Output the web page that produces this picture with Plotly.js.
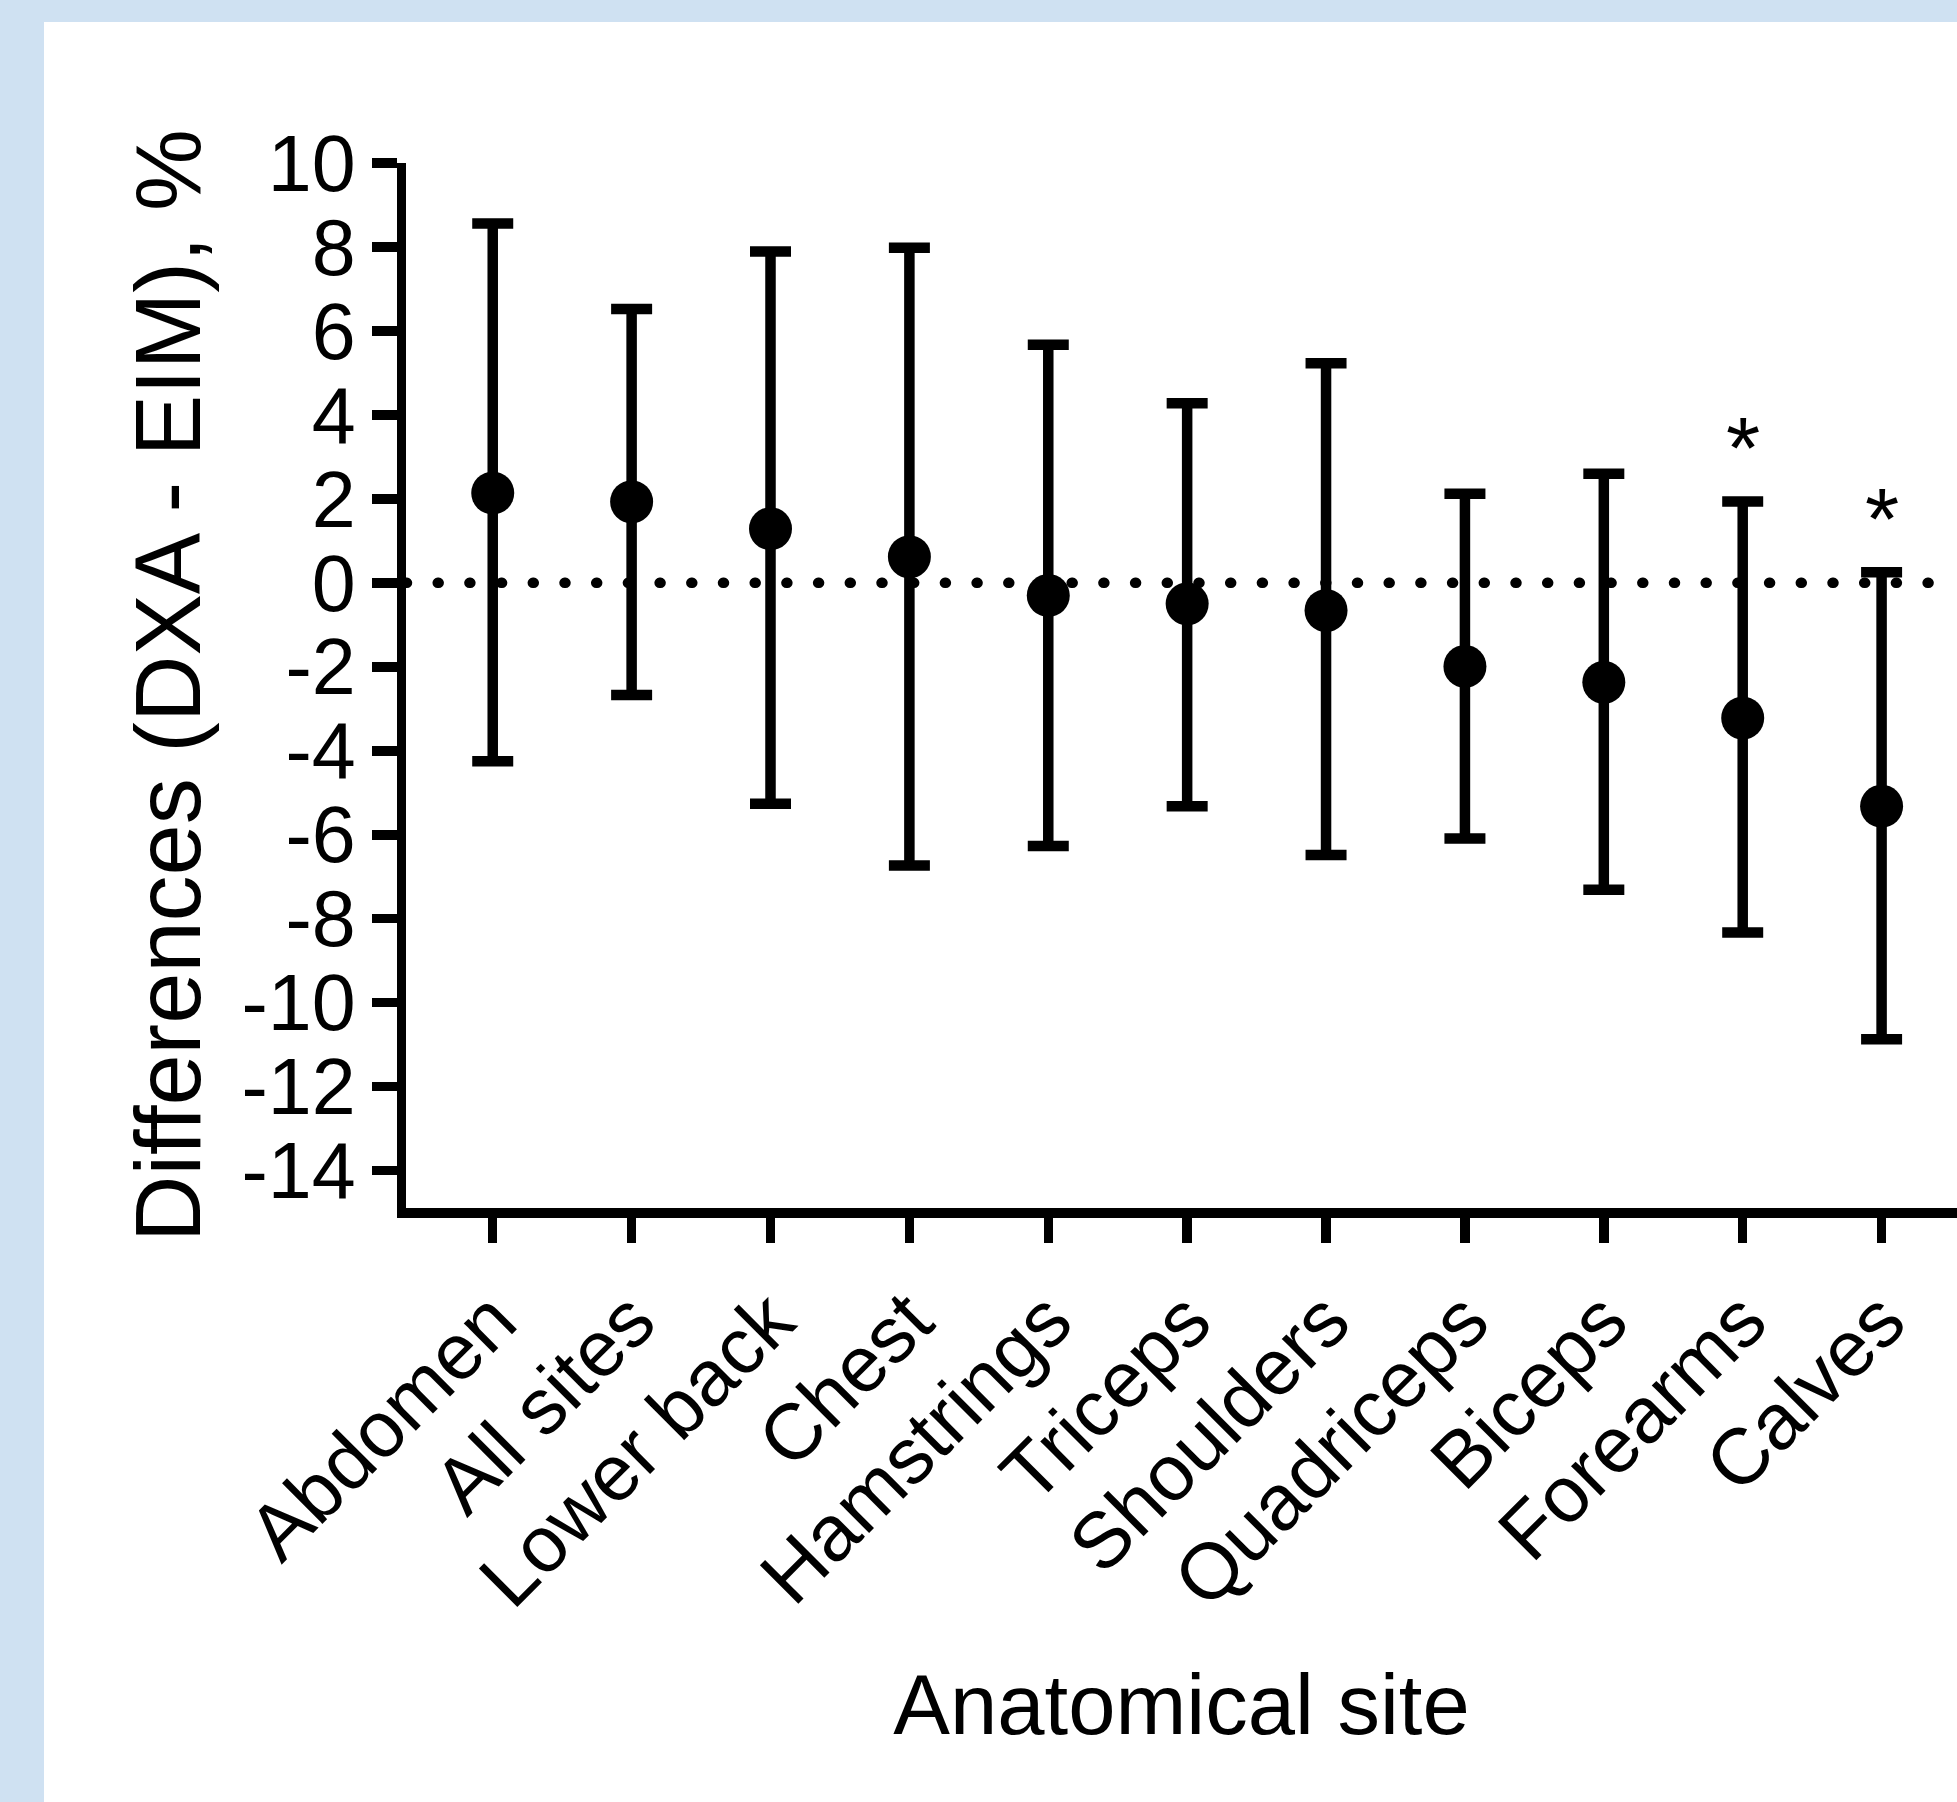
<!DOCTYPE html>
<html>
<head>
<meta charset="utf-8">
<script src="https://cdn.plot.ly/plotly-3.0.1.min.js"></script>
<style>
  html, body { margin: 0; padding: 0; background: #cfe1f2; width: 1957px; height: 1802px; overflow: hidden; }
  #frame { position: absolute; left: 44px; top: 22px; width: 1913px; height: 1780px; background: #ffffff; }
  #chart { width: 1913px; height: 1780px; }
  .shapelayer path { stroke-linecap: round; }
</style>
</head>
<body>
<div id="frame"><div id="chart"></div></div>
<script>
// Anatomical sites (x categories)
const sites = ["Abdomen", "All sites", "Lower back", "Chest", "Hamstrings", "Triceps",
               "Shoulders", "Quadriceps", "Biceps", "Forearms", "Calves"];
// Mean difference (DXA - EIM), %
const meanDiff = [2.14, 1.93, 1.29, 0.62, -0.30, -0.50, -0.66, -1.99, -2.37, -3.22, -5.32];
// Upper and lower limits of the error bars, %
const upperLimit = [8.56, 6.52, 7.89, 7.98, 5.67, 4.28, 5.23, 2.12, 2.60, 1.94, 0.25];
const lowerLimit = [-4.25, -2.67, -5.26, -6.73, -6.27, -5.32, -6.48, -6.09, -7.31, -8.33, -10.87];
// Sites flagged as significant
const significant = ["Forearms", "Calves"];
// Y-axis tick values
const yTicks = [-14, -12, -10, -8, -6, -4, -2, 0, 2, 4, 6, 8, 10];

const FONT = "Liberation Sans, Arial, Helvetica, sans-serif";

const errPlus = meanDiff.map((m, i) => upperLimit[i] - m);
const errMinus = meanDiff.map((m, i) => m - lowerLimit[i]);

const trace = {
  type: "scatter",
  mode: "markers",
  x: sites,
  y: meanDiff,
  marker: { color: "#000000", size: 43, symbol: "circle" },
  error_y: {
    type: "data",
    symmetric: false,
    array: errPlus,
    arrayminus: errMinus,
    color: "#000000",
    thickness: 10.5,
    width: 20.5
  },
  cliponaxis: false,
  hoverinfo: "x+y"
};

const annotations = significant.map(s => {
  const i = sites.indexOf(s);
  return {
    x: s, y: upperLimit[i], xref: "x", yref: "y",
    text: "*", showarrow: false, yanchor: "bottom", yshift: 2,
    font: { family: FONT, size: 88, color: "#000000" }
  };
});

const layout = {
  width: 1913,
  height: 1780,
  margin: { l: 362, r: 0, t: 141, b: 594, pad: 0 },
  paper_bgcolor: "#ffffff",
  plot_bgcolor: "#ffffff",
  showlegend: false,
  font: { family: FONT, color: "#000000", size: 78 },
  xaxis: {
    type: "category",
    range: [-0.6245, 10.543],
    showgrid: false,
    zeroline: false,
    showline: true,
    linecolor: "#000000",
    linewidth: 9.5,
    ticks: "outside",
    ticklen: 25,
    tickwidth: 9.5,
    tickcolor: "#000000",
    tickangle: -45,
    tickfont: { family: FONT, size: 79, color: "#000000" },
    automargin: false,
    title: { text: "Anatomical site", font: { family: FONT, size: 85, color: "#000000" }, standoff: 56 }
  },
  yaxis: {
    range: [-14.89, 10],
    tickmode: "array",
    tickvals: yTicks,
    ticktext: yTicks.map(String),
    showgrid: false,
    zeroline: false,
    showline: true,
    linecolor: "#000000",
    linewidth: 9.5,
    ticks: "outside",
    ticklen: 25,
    tickwidth: 9.5,
    tickcolor: "#000000",
    tickfont: { family: FONT, size: 79, color: "#000000" },
    automargin: false,
    title: { text: "Differences (DXA - EIM), %", font: { family: FONT, size: 92, color: "#000000" }, standoff: 14 }
  },
  shapes: [{
    type: "line", layer: "below",
    xref: "paper", x0: 0, x1: 1,
    yref: "y", y0: 0, y1: 0,
    line: { color: "#000000", width: 10.5, dash: "1px,30.7px" }
  }],
  annotations: annotations
};

Plotly.newPlot("chart", [trace], layout, { displayModeBar: false, staticPlot: true });
</script>
</body>
</html>
